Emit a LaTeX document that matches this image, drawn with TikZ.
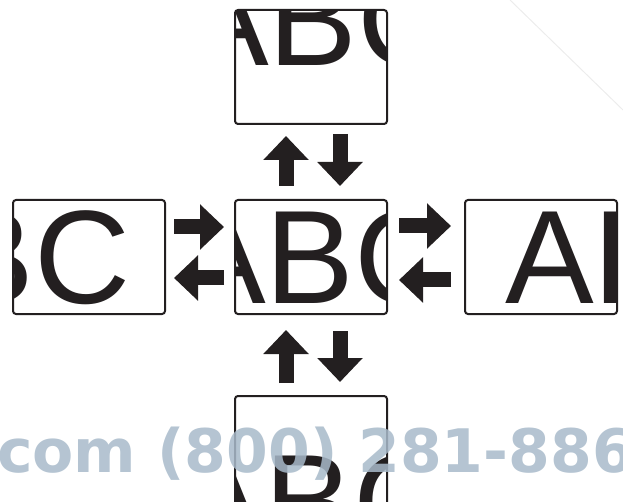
\documentclass[tikz,border=0pt]{standalone}
\usepackage{fontspec}
\setmainfont{Liberation Sans}
\newfontfamily\markfont{DejaVu Sans}
\usetikzlibrary{
  arrows.meta,
  positioning
}
\definecolor{InkBlack}{HTML}{231F20}
\definecolor{MarkBlue}{HTML}{A8BACA}
\definecolor{ScanGrey}{HTML}{ECECEC}
\tikzset{
  % Display window: fixed size, text clipped inside
  panel/.style 2 args={
    rectangle, rounded corners=3pt,
    draw=InkBlack, line width=2pt, fill=white,
    minimum width=152pt, minimum height=114pt,
    inner sep=0pt,
    path picture={
      \node[scrolltxt] at ([shift={(#1,#2)}]path picture bounding box.center) {ABC};
    }
  },
  % Scrolling text
  scrolltxt/.style={
    anchor=base west, inner sep=0pt, text=InkBlack,
    font=\fontsize{133}{133}\selectfont
  },
  % Block arrow
  barr/.style={
    -{Triangle[length=24pt,width=44pt]},
    line width=15pt, color=InkBlack
  },
  % Watermark
  wmark/.style={
    anchor=base west, inner sep=0pt, text=MarkBlue, text opacity=0.85,
    font=\markfont\bfseries\fontsize{60}{60}\selectfont
  }
}
\begin{document}
\begin{tikzpicture}[x=1pt,y=-1pt]
  \useasboundingbox (0,0) rectangle (623,502);
  \clip (0,0) rectangle (623,502);

  % scan line
  \draw[ScanGrey, line width=1pt] (510,0) -- (623,110);

  % Windows
  \node[panel={-135}{47}] (cen) at (311,257) {};
  \node[panel={-132}{-1}, above=74pt of cen] (top) {};
  \node[panel={-233}{47}, left=68pt of cen]  (lft) {};
  \node[panel={-37}{47},  right=76pt of cen] (rgt) {};
  \node[panel={-136}{94}, below=80pt of cen] (bot) {};

  % Vertical arrows
  \draw[barr] ([xshift=-25pt,yshift=13pt]cen.north) -- ([xshift=-25pt,yshift=-11pt]top.south);
  \draw[barr] ([xshift=29pt,yshift=-9pt]top.south)  -- ([xshift=29pt,yshift=13pt]cen.north);
  \draw[barr] ([xshift=-25pt,yshift=12pt]bot.north) -- ([xshift=-25pt,yshift=-15pt]cen.south);
  \draw[barr] ([xshift=29pt,yshift=-16pt]cen.south) -- ([xshift=29pt,yshift=13pt]bot.north);

  % Horizontal arrows
  \draw[barr] ([xshift=8pt,yshift=30pt]lft.east)    -- ([xshift=-10pt,yshift=30pt]cen.west);
  \draw[barr] ([xshift=-10pt,yshift=-21pt]cen.west) -- ([xshift=8pt,yshift=-21pt]lft.east);
  \draw[barr] ([xshift=11pt,yshift=31pt]cen.east)   -- ([xshift=-13pt,yshift=31pt]rgt.west);
  \draw[barr] ([xshift=-13pt,yshift=-23pt]rgt.west) -- ([xshift=11pt,yshift=-23pt]cen.east);

  % Watermark
  \node[wmark] (wm) at (-3,472) {com (800) 281-886};

\end{tikzpicture}
\end{document}
